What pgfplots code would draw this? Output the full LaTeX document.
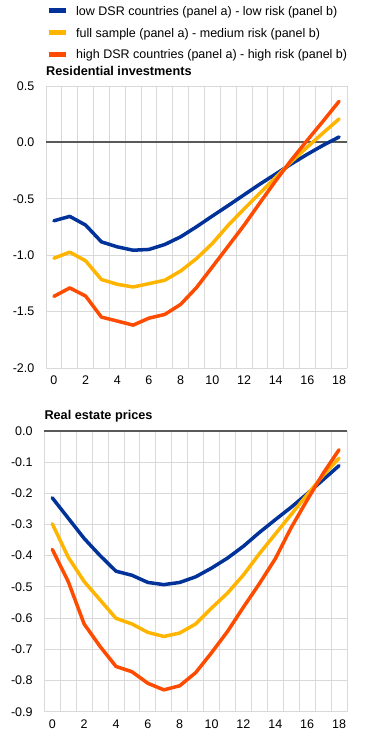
\documentclass[border=0pt]{standalone}
\usepackage{pgfplots}
\pgfplotsset{compat=1.18}
\usepackage{fontspec}
\setmainfont{Liberation Sans}
\definecolor{ecbblue}{RGB}{0,50,153}
\definecolor{ecbyellow}{RGB}{255,180,0}
\definecolor{ecbred}{RGB}{255,75,0}
\definecolor{gridgray}{RGB}{217,217,217}
\definecolor{zerogray}{RGB}{89,89,89}
\pgfplotsset{
 ecbstyle/.style={
  scale only axis,
  xmin=-0.5, xmax=18.5,
  xtick={0,2,...,18},
  minor xtick={-0.5,0.5,...,18.5},
  xminorgrids=true, ymajorgrids=true,
  grid style={gridgray, line width=0.8pt},
  minor grid style={gridgray, line width=0.8pt},
  major tick length=0pt, minor tick length=0pt,
  axis line style={draw=none},
  tick label style={font=\fontsize{12.5}{14}\selectfont, inner sep=0pt},
  /pgf/number format/assume math mode=true,
  yticklabel style={/pgf/number format/.cd, fixed, fixed zerofill, precision=1, /tikz/.cd, xshift=-11.5pt},
  xticklabel style={yshift=-8pt},
  title style={at={(0,1)}, anchor=base west, yshift=4.7pt, inner sep=0pt, font=\fontsize{12.7}{14}\selectfont\bfseries},
  every axis plot/.append style={line width=3.5pt, line join=round, line cap=round},
  clip=false,
 }
}
\begin{document}
\begin{tikzpicture}
\useasboundingbox (0,0) rectangle (376pt,738pt);
\begin{axis}[ecbstyle, at={(46pt,370pt)}, anchor=south west, width=301pt, height=282pt,
  ymin=-2, ymax=0.5, ytick={-2,-1.5,-1,-0.5,0,0.5},
  title={Residential investments},
  legend style={at={(0,1)}, anchor=north west, yshift=79.7pt, draw=none, fill=none, inner sep=0pt, row sep=9.7pt,
    font=\fontsize{12.5}{14}\selectfont, nodes={inner sep=0pt, text height=9pt, text depth=3pt},
    /tikz/every odd column/.append style={column sep=8pt}},
  legend cell align=left,
  legend image code/.code={\draw[line width=5pt, line cap=butt] (0pt,1.5pt) -- (17pt,1.5pt);}]
\addplot[zerogray, line width=2pt, line cap=butt, forget plot] coordinates {(-0.5,0) (18.5,0)};
\addplot[ecbblue] coordinates {(0,-0.695) (1,-0.656) (2,-0.733) (3,-0.882) (4,-0.926) (5,-0.956) (6,-0.949) (7,-0.905) (8,-0.837) (9,-0.748) (10,-0.653) (11,-0.56) (12,-0.465) (13,-0.37) (14,-0.28) (15,-0.19) (16,-0.105) (17,-0.025) (18,0.048)};
\addlegendentry{low DSR countries (panel a) - low risk (panel b)}
\addplot[ecbyellow] coordinates {(0,-1.027) (1,-0.973) (2,-1.05) (3,-1.216) (4,-1.258) (5,-1.282) (6,-1.252) (7,-1.222) (8,-1.14) (9,-1.03) (10,-0.896) (11,-0.735) (12,-0.59) (13,-0.45) (14,-0.31) (15,-0.17) (16,-0.04) (17,0.085) (18,0.208)};
\addlegendentry{full sample (panel a) - medium risk (panel b)}
\addplot[ecbred] coordinates {(0,-1.365) (1,-1.29) (2,-1.362) (3,-1.549) (4,-1.584) (5,-1.62) (6,-1.558) (7,-1.525) (8,-1.436) (9,-1.287) (10,-1.104) (11,-0.92) (12,-0.735) (13,-0.536) (14,-0.34) (15,-0.154) (16,0.02) (17,0.19) (18,0.364)};
\addlegendentry{high DSR countries (panel a) - high risk (panel b)}
\end{axis}
\begin{axis}[ecbstyle, at={(44.3pt,26.3pt)}, anchor=south west, width=302.7pt, height=281pt,
  ymin=-0.9, ymax=0, ytick={-0.9,-0.8,-0.7,-0.6,-0.5,-0.4,-0.3,-0.2,-0.1,0},
  title={Real estate prices}, title style={yshift=1pt}]
\addplot[zerogray, line width=2pt, line cap=butt, forget plot] coordinates {(-0.5,0) (18.5,0)};
\addplot[ecbblue] coordinates {(0,-0.215) (1,-0.28) (2,-0.345) (3,-0.40) (4,-0.45) (5,-0.463) (6,-0.486) (7,-0.493) (8,-0.486) (9,-0.468) (10,-0.44) (11,-0.408) (12,-0.37) (13,-0.326) (14,-0.285) (15,-0.245) (16,-0.202) (17,-0.157) (18,-0.112)};
\addplot[ecbyellow] coordinates {(0,-0.298) (1,-0.405) (2,-0.483) (3,-0.542) (4,-0.601) (5,-0.619) (6,-0.646) (7,-0.659) (8,-0.648) (9,-0.619) (10,-0.568) (11,-0.52) (12,-0.462) (13,-0.394) (14,-0.331) (15,-0.268) (16,-0.205) (17,-0.143) (18,-0.088)};
\addplot[ecbred] coordinates {(0,-0.38) (1,-0.483) (2,-0.619) (3,-0.691) (4,-0.755) (5,-0.772) (6,-0.809) (7,-0.83) (8,-0.817) (9,-0.775) (10,-0.711) (11,-0.643) (12,-0.565) (13,-0.49) (14,-0.41) (15,-0.31) (16,-0.222) (17,-0.137) (18,-0.061)};
\end{axis}
\end{tikzpicture}
\end{document}
